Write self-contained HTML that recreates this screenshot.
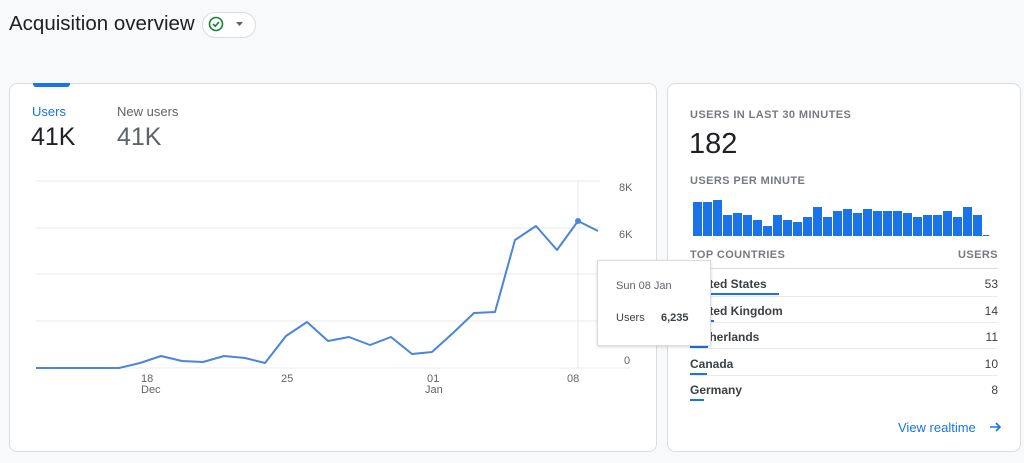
<!DOCTYPE html>
<html><head><meta charset="utf-8"><style>
body{margin:0;width:1024px;height:463px;background:#f8f9fa;font-family:"Liberation Sans",sans-serif;position:relative;overflow:hidden;color:#202124}
.a{position:absolute;white-space:nowrap}
.card{position:absolute;background:#fff;border:1px solid #dadce0;border-radius:8px}
.cap{font-size:11px;color:#5f6368;letter-spacing:.4px;font-weight:bold;opacity:.85}
.row{position:absolute;left:690px;width:308px;font-size:12px;color:#3c4043;font-weight:bold}
.row span{font-weight:normal}
</style></head><body>
<div class="a" style="left:9px;top:12px;font-size:20.5px;color:#202124">Acquisition overview</div>
<div class="a" style="left:202px;top:12px;width:52px;height:24px;border:1px solid #dadce0;border-radius:13px;background:#fff"></div>
<svg class="a" style="left:207px;top:15px" width="45" height="18"><circle cx="9" cy="9" r="6.5" fill="none" stroke="#188038" stroke-width="1.6"/><path d="M6 9l2.2 2.2L12 7" fill="none" stroke="#188038" stroke-width="1.6"/><path d="M29 7h7l-3.5 4z" fill="#5f6368"/></svg>

<div class="card" style="left:9px;top:83px;width:646px;height:367px"></div>
<div class="a" style="left:33px;top:83px;width:37px;height:4px;background:#1a73e8;border-radius:0 0 3px 3px"></div>
<div class="a" style="left:32px;top:104px;font-size:13px;color:#1a73e8">Users</div>
<div class="a" style="left:117px;top:104px;font-size:13px;color:#5f6368">New users</div>
<div class="a" style="left:31px;top:123px;font-size:25px;color:#202124">41K</div>
<div class="a" style="left:117px;top:123px;font-size:25px;color:#5f6368">41K</div>

<svg class="a" style="left:0;top:0" width="660" height="463">
<g stroke="#e8eaed" stroke-width="1">
<line x1="36" y1="181" x2="600" y2="181"/><line x1="36" y1="228" x2="600" y2="228"/><line x1="36" y1="274" x2="600" y2="274"/><line x1="36" y1="321" x2="600" y2="321"/><line x1="36" y1="368" x2="630" y2="368"/>
<line x1="578" y1="181" x2="578" y2="368"/>
</g>
<g font-size="11" fill="#5f6368" font-family="Liberation Sans">
<text x="619" y="191">8K</text><text x="619" y="238">6K</text><text x="624" y="364">0</text>
<text x="141" y="382">18</text><text x="141" y="393">Dec</text>
<text x="281" y="382">25</text>
<text x="427" y="382">01</text><text x="425" y="393">Jan</text>
<text x="567" y="382">08</text>
</g>
<polyline fill="none" stroke="#4a86d8" stroke-width="2" stroke-linejoin="round" points="36,368 56,368 77,368 98,368 119,368 140,363 161,356 182,361 203,362 224,356 245,358 265,363 286,336 307,322 328,341 349,337 370,345 391,337 412,354 432,352 453,333 474,313 495,312 515,240 536,226 557,250 578,221 598,231"/>
<circle cx="578" cy="221" r="3" fill="#4a86d8"/>
</svg>

<div class="a" style="left:597px;top:260px;width:112px;height:84px;background:#fff;border:1px solid #dadce0;box-shadow:0 1px 3px rgba(0,0,0,.15);z-index:3">
<div class="a" style="left:18px;top:19px;font-size:11px;color:#5f6368">Sun 08 Jan</div>
<div class="a" style="left:18px;top:51px;font-size:11px;color:#3c4043">Users</div>
<div class="a" style="left:63px;top:51px;font-size:11px;font-weight:bold;color:#3c4043">6,235</div>
</div>

<div class="card" style="left:667px;top:83px;width:352px;height:367px"></div>
<div class="a cap" style="left:690px;top:109px">USERS IN LAST 30 MINUTES</div>
<div class="a" style="left:689px;top:128px;font-size:29px">182</div>
<div class="a cap" style="left:690px;top:175px">USERS PER MINUTE</div>
<svg class="a" style="left:0;top:0" width="1024" height="463" id="b"></svg>
<div class="a cap" style="left:690px;top:249px">TOP COUNTRIES</div>
<div class="a cap" style="left:958px;top:249px">USERS</div>
<div class="a" style="left:690px;top:268px;width:308px;height:1px;background:#dadce0"></div>

<div class="row" style="top:277px">United States<span style="float:right">53</span></div>
<div class="a" style="left:690px;top:293px;width:89px;height:2px;background:#1a73e8"></div>
<div class="a" style="left:690px;top:296px;width:308px;height:1px;background:#e8eaed"></div>
<div class="row" style="top:304px">United Kingdom<span style="float:right">14</span></div>
<div class="a" style="left:690px;top:320px;width:24px;height:2px;background:#1a73e8"></div>
<div class="a" style="left:690px;top:322px;width:308px;height:1px;background:#e8eaed"></div>
<div class="row" style="top:330px">Netherlands<span style="float:right">11</span></div>
<div class="a" style="left:690px;top:346px;width:18px;height:2px;background:#1a73e8"></div>
<div class="a" style="left:690px;top:348px;width:308px;height:1px;background:#e8eaed"></div>
<div class="row" style="top:357px">Canada<span style="float:right">10</span></div>
<div class="a" style="left:690px;top:373px;width:17px;height:2px;background:#1a73e8"></div>
<div class="a" style="left:690px;top:375px;width:308px;height:1px;background:#e8eaed"></div>
<div class="row" style="top:383px">Germany<span style="float:right">8</span></div>
<div class="a" style="left:690px;top:399px;width:14px;height:2px;background:#1a73e8"></div>
<div class="a" style="left:898px;top:420px;font-size:13px;color:#1a73e8">View realtime</div>
<svg class="a" style="left:989px;top:420px" width="14" height="14"><path d="M1 7h10M7 3l4 4-4 4" fill="none" stroke="#1a73e8" stroke-width="1.6"/></svg>
<script>
var t=[202,202,200,215,213,215,220,226,215,220,222,217,207,217,211,209,213,209,211,211,211,213,217,215,215,211,217,207,215],s='';
t.forEach(function(y,i){s+='<rect x="'+(693+i*10)+'" y="'+y+'" width="9" height="'+(236-y)+'" fill="#1a73e8"/>';});
s+='<rect x="983" y="235" width="6" height="1" fill="#1a73e8"/>';
document.getElementById('b').innerHTML=s;
</script>
</body></html>
